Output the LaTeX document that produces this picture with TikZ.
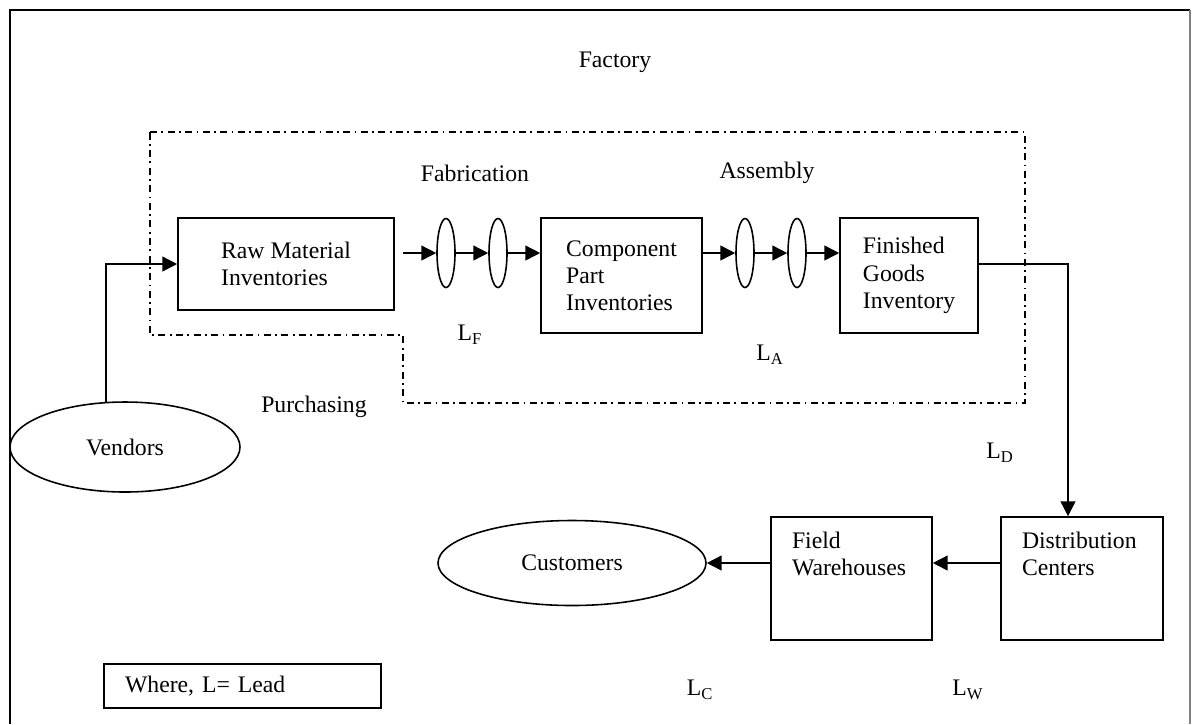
\documentclass[tikz,border=0pt]{standalone}
\usepackage{fontspec}
\setmainfont{Liberation Serif}
\usepackage{tikz}
\usetikzlibrary{arrows.meta, shapes.geometric, positioning}

\begin{document}
\begin{tikzpicture}[>={Triangle[length=8.5pt,width=8.5pt]}, line width=0.9pt,
    every node/.style={font=\fontsize{13.5pt}{15.5pt}\selectfont}]
            %Block styles
            \tikzstyle{inv} = [draw, rectangle, align=left, inner sep=0pt]
            \tikzstyle{lens} = [draw, ellipse, minimum width=0.36cm, minimum height=1.38cm, inner sep=0pt]
            \tikzstyle{party} = [draw, ellipse, inner sep=0pt]
            \tikzstyle{boundary} = [line width=0.8pt, dash pattern=on 4pt off 2.5pt on 1pt off 2.5pt]

            \useasboundingbox (0,0) rectangle (23.88,-14.48);

            %Frame
            \draw[line width=1.3pt] (0.2,-14.48) -- (0.2,-0.2) -- (23.8,-0.2);
            \draw[gray, line width=0.6pt] (23.8,-0.2) -- (23.8,-14.48);

            %Factory boundary
            \draw[boundary] (3.0,-2.64) -- (20.5,-2.64) -- (20.5,-8.06) -- (8.06,-8.06)
                -- (8.06,-6.7) -- (3.0,-6.7) -- cycle;

            %Nodes
            \node at (12.3,-1.24) (factory) {Factory};
            \node at (9.5,-3.46) (fab) {Fabrication};
            \node at (15.34,-3.46) (asm) {Assembly};
            \node at (6.28,-8.14) (purch) {Purchasing};

            \node[inv, minimum width=4.32cm, minimum height=1.84cm] at (5.72,-5.28) (raw) {Raw Material\\Inventories};
            \node[inv, minimum width=3.22cm, minimum height=2.3cm] at (12.43,-5.51) (comp) {Component\\Part\\Inventories};
            \node[inv, minimum width=2.76cm, minimum height=2.3cm] at (18.18,-5.51) (fin) {Finished\\Goods\\Inventory};

            \coordinate (rawout) at (8.06,-5.06);
            \node[lens] at (8.92,-5.06) (f1) {};
            \node[lens] at (9.96,-5.06) (f2) {};
            \node[lens] at (14.9,-5.06) (a1) {};
            \node[lens] at (15.94,-5.06) (a2) {};

            \node[party, minimum width=4.6cm, minimum height=1.8cm] at (2.5,-8.94) (vend) {Vendors};
            \node[party, minimum width=5.36cm, minimum height=1.7cm] at (11.44,-11.26) (cust) {Customers};

            \node[inv, minimum width=3.24cm, minimum height=2.46cm] at (21.64,-11.57) (dc) {};
            \node[inv, minimum width=3.22cm, minimum height=2.46cm] at (17.03,-11.57) (fw) {};
            \node[anchor=north west, align=left, inner sep=0pt] at ([xshift=0.42cm,yshift=-0.3cm]dc.north west) (dctext) {Distribution\\Centers};
            \node[anchor=north west, align=left, inner sep=0pt] at ([xshift=0.42cm,yshift=-0.3cm]fw.north west) (fwtext) {Field\\Warehouses};

            \node[inv, text width=4.7cm, inner xsep=0.42cm, minimum height=0.88cm] at (4.85,-13.72) (where) {Where, L= Lead};

            \node at (9.4,-6.7) (lf) {L\textsubscript{F}};
            \node at (15.4,-7.1) (la) {L\textsubscript{A}};
            \node at (20.0,-9.06) (ld) {L\textsubscript{D}};
            \node at (14.0,-13.8) (lc) {L\textsubscript{C}};
            \node at (19.36,-13.8) (lw) {L\textsubscript{W}};

            %Connections
            \draw[->] (vend.113) |- (raw.west);
            \draw[->] (rawout) -- (f1.west);
            \draw[->] (f1.east) -- (f2.west);
            \draw[->] (f2.east) -- (comp.west |- f2);
            \draw[->] (comp.east |- a1) -- (a1.west);
            \draw[->] (a1.east) -- (a2.west);
            \draw[->] (a2.east) -- (fin.west |- a2);
            \draw[->] ([yshift=0.23cm]fin.east) -| ([xshift=-0.28cm]dc.north);
            \draw[->] (dc.west |- cust.east) -- (fw.east |- cust.east);
            \draw[->] (fw.west |- cust.east) -- (cust.east);
        \end{tikzpicture}
\end{document}
